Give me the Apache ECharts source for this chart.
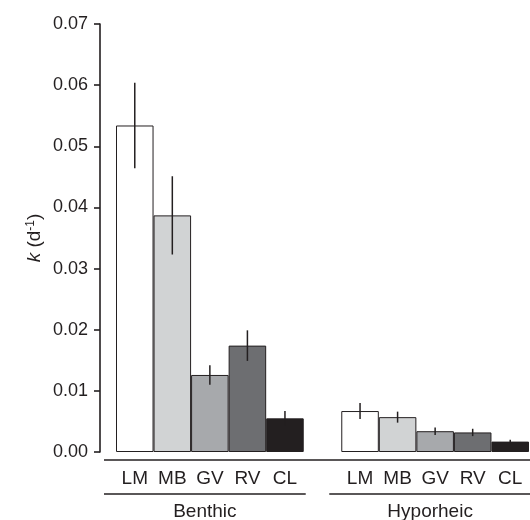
<!DOCTYPE html>
<html>
<head>
<meta charset="utf-8">
<script src="https://cdn.jsdelivr.net/npm/echarts@6/dist/echarts.min.js"></script>
<style>html,body{margin:0;padding:0;background:#fff;}#main{width:530px;height:520px;}</style>
</head>
<body>
<div id="main"></div>
<script>
// ---- data ----
const categories = ['LM', 'MB', 'GV', 'RV', 'CL', '', 'LM', 'MB', 'GV', 'RV', 'CL'];
const benthicMean = [0.0534, 0.0387, 0.0126, 0.0174, 0.0055];
const benthicErr  = [0.0070, 0.0064, 0.0016, 0.0025, 0.0012];
const hyporheicMean = [0.0067, 0.0057, 0.0034, 0.0032, 0.0017];
const hyporheicErr  = [0.0013, 0.0009, 0.0006, 0.0006, 0.0003];
const siteColors = ['#ffffff', '#d1d3d4', '#a7a9ac', '#6d6e71', '#231f20'];
const groupNames = ['Benthic', 'Hyporheic'];
const yTicks = [0, 0.01, 0.02, 0.03, 0.04, 0.05, 0.06, 0.07];

// ---- build ----
const FONT = "'Liberation Sans', Arial, Helvetica, sans-serif";
const INK = '#231f20';
const means = benthicMean.concat([null], hyporheicMean);
const errs = benthicErr.concat([null], hyporheicErr);
const barData = means.map((v, i) => v == null ? '-' : {
  value: v,
  itemStyle: { color: siteColors[i % 6] }
});
const errData = [];
means.forEach((v, i) => { if (v != null) errData.push([i, v - errs[i], v + errs[i]]); });

const chart = echarts.init(document.getElementById('main'), null, { renderer: 'canvas' });
chart.setOption({
  animation: false,
  backgroundColor: '#ffffff',
  grid: { left: 116, right: 1, top: 24, bottom: 68, containLabel: false },
  xAxis: {
    type: 'category',
    data: categories,
    axisLine: { show: false },
    axisTick: { show: false },
    axisLabel: { interval: 0, margin: 17, fontSize: 19, color: INK, fontFamily: FONT }
  },
  yAxis: {
    type: 'value',
    min: yTicks[0], max: yTicks[yTicks.length - 1], interval: 0.01,
    offset: 16,
    splitLine: { show: false },
    axisLine: { show: true, lineStyle: { color: INK, width: 1.6 } },
    axisTick: { show: true, inside: false, length: 6, lineStyle: { color: INK, width: 1.6 } },
    axisLabel: { margin: 12, fontSize: 18, color: INK, fontFamily: FONT,
      formatter: v => v.toFixed(2) },
    name: '{i|k} {n|(d}{s|-1}{n|)}',
    nameLocation: 'middle',
    nameRotate: 90,
    nameGap: 55,
    nameMoveOverlap: false,
    nameTextStyle: {
      fontFamily: FONT, color: INK, fontSize: 19,
      rich: {
        i: { fontStyle: 'italic', fontSize: 19, fontFamily: FONT, color: INK },
        n: { fontSize: 19, fontFamily: FONT, color: INK },
        s: { fontSize: 12, fontFamily: FONT, color: INK, verticalAlign: 'top', padding: [0, 0, 8, 0] }
      }
    }
  },
  series: [
    {
      type: 'bar',
      data: barData,
      barCategoryGap: '0%',
      itemStyle: { borderColor: INK, borderWidth: 1 },
      z: 2
    },
    {
      type: 'custom',
      data: errData,
      z: 5,
      renderItem: function (params, api) {
        const lo = api.coord([api.value(0), api.value(1)]);
        const hi = api.coord([api.value(0), api.value(2)]);
        return {
          type: 'line',
          shape: { x1: lo[0], y1: lo[1], x2: hi[0], y2: hi[1] },
          style: { stroke: INK, lineWidth: 1.5 }
        };
      }
    }
  ]
});

// group brackets and baseline, positioned via the axis scale
const c = i => chart.convertToPixel({ xAxisIndex: 0 }, i);
const band = c(1) - c(0);
const y0 = chart.convertToPixel({ yAxisIndex: 0 }, 0);
const groups = [{ name: groupNames[0], from: 0, to: 4 }, { name: groupNames[1], from: 6, to: 10 }];
const elements = [{
  type: 'line',
  shape: { x1: c(0) - band / 2 - 12, y1: y0 + 8, x2: c(categories.length - 1) + band / 2 + 2, y2: y0 + 8 },
  style: { stroke: INK, lineWidth: 1.6 }
}];
groups.forEach(g => {
  const xa = c(g.from) - band / 2 - 12;
  const xb = c(g.to) + band / 2 + 2;
  elements.push({
    type: 'line',
    shape: { x1: xa, y1: y0 + 42, x2: xb, y2: y0 + 42 },
    style: { stroke: INK, lineWidth: 1.6 }
  });
  elements.push({
    type: 'text',
    x: (xa + xb) / 2, y: y0 + 60,
    style: { text: g.name, fontSize: 19, fontFamily: FONT, fill: INK, align: 'center', verticalAlign: 'middle' }
  });
});
chart.setOption({ graphic: { elements: elements } });
</script>
</body>
</html>
